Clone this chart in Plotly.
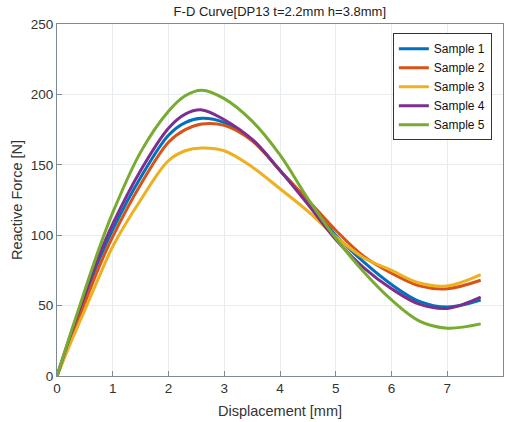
import plotly.graph_objects as go

x_pts = [0, 0.25, 0.5, 0.75, 1, 1.5, 2, 2.3, 2.6, 3, 3.5, 4, 4.5, 5, 5.5, 6, 6.5, 7, 7.6]
sample1 = [0, 28, 56, 82, 104, 141, 171, 180, 183, 180, 168, 146, 124, 100, 81, 65, 53, 49, 54]
sample2 = [0, 26, 52, 77, 99, 136, 166, 175, 179, 178, 167, 146, 125, 103.5, 85, 73, 64, 62, 68]
sample3 = [0, 24, 47, 70, 92, 125, 153, 160, 162, 160, 148.5, 133, 117, 99, 84, 75, 66, 64, 72]
sample4 = [0, 30, 58, 85, 108, 146, 176, 186, 189, 182, 168, 146, 122, 97, 77, 62, 51, 48, 56]
sample5 = [0, 31, 61, 90, 116, 159, 188, 199, 203, 197, 181, 157, 126, 98, 74, 54, 39, 34, 37]

names = ["Sample 1", "Sample 2", "Sample 3", "Sample 4", "Sample 5"]
series = [sample1, sample2, sample3, sample4, sample5]
colors = ["#0072BD", "#D95319", "#EDB120", "#7E2F8E", "#77AC30"]

title_text = "F-D Curve[DP13 t=2.2mm h=3.8mm]"
x_title = "Displacement [mm]"
y_title = "Reactive Force [N]"

fig = go.Figure()
for n, s, c in zip(names, series, colors):
    fig.add_trace(go.Scatter(x=x_pts, y=s, mode="lines", name=n,
                             line=dict(color=c, width=3, shape="spline", smoothing=1.0)))

FONT = "Liberation Sans, Arial"
axis_common = dict(
    showline=True, linecolor="#7f8a94", linewidth=1, mirror=True,
    showgrid=True, gridcolor="#e6ecf0", gridwidth=1,
    ticks="inside", ticklen=5, tickcolor="#7f8a94",
    zeroline=False, automargin=False,
    tickfont=dict(family=FONT, size=13.5, color="#333333"),
    title_font=dict(family=FONT, size=14.5, color="#333333"),
)

fig.update_layout(
    width=506, height=422,
    margin=dict(l=57, r=3, t=24, b=46),
    paper_bgcolor="white", plot_bgcolor="white",
    title=dict(text=title_text, x=0.553, xanchor="center", y=0.972, yanchor="middle",
               font=dict(family=FONT, size=13, color="#222222")),
    xaxis=dict(range=[0, 8], dtick=1, title=dict(text=x_title, standoff=10), **axis_common),
    yaxis=dict(range=[0, 250], dtick=50, title=dict(text=y_title, standoff=4), **axis_common),
    legend=dict(x=0.975, y=0.974, xanchor="right", yanchor="top",
                bgcolor="white", bordercolor="#333333", borderwidth=1,
                font=dict(family=FONT, size=12, color="#111111"),
                tracegroupgap=0, itemwidth=30),
    showlegend=True,
)

fig.write_html("out.html", config={"displayModeBar": False},
               post_script="document.body.style.margin='0';document.body.style.overflow='hidden';")
